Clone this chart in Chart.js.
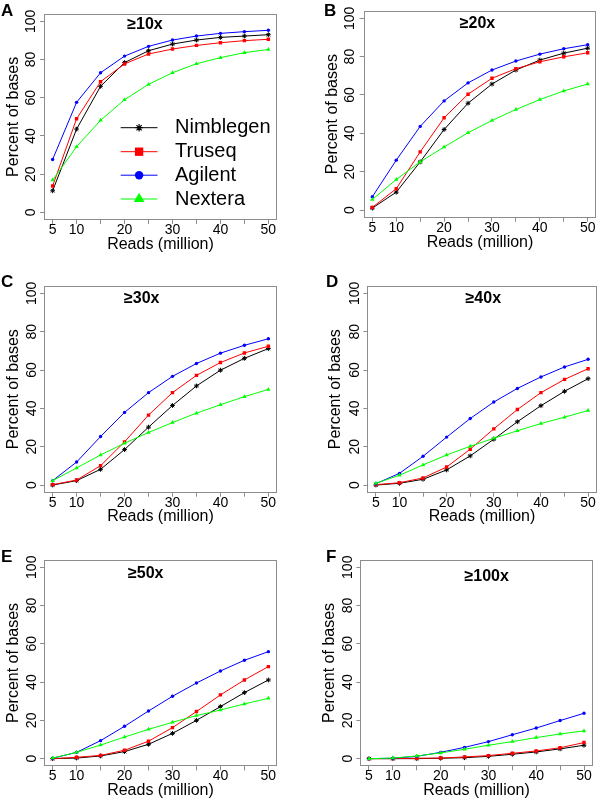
<!DOCTYPE html>
<html><head><meta charset="utf-8">
<script src="https://cdn.jsdelivr.net/npm/chart.js@4/dist/chart.umd.min.js"></script>
<style>
html,body{margin:0;padding:0;background:#fff;}
#wrap{position:relative;width:600px;height:802px;overflow:hidden;}
canvas{position:absolute;}
</style></head><body><div id="wrap"></div>
<script>
// ---- data ----
const reads = [5, 10, 15, 20, 25, 30, 35, 40, 45, 50];
const xTicks = [5, 10, 15, 20, 25, 30, 35, 40, 45, 50];
const xLabelShown = [5, 10, 20, 30, 40, 50];
const yTicks = [0, 20, 40, 60, 80, 100];
const seriesNames = ['Nimblegen', 'Truseq', 'Agilent', 'Nextera'];
const panelLetters = ['A', 'B', 'C', 'D', 'E', 'F'];
const panelTitles = ['≥10x', '≥20x', '≥30x', '≥40x', '≥50x', '≥100x'];

const nimblegen10x = [11.3, 43.6, 66.0, 78.4, 84.6, 88.1, 90.2, 91.6, 92.3, 93.0];
const truseq10x    = [13.8, 49.0, 68.4, 77.7, 82.9, 85.5, 87.4, 88.8, 89.9, 90.6];
const agilent10x   = [27.7, 57.6, 73.1, 81.8, 86.9, 90.2, 92.3, 93.7, 94.6, 95.3];
const nextera10x   = [16.9, 34.4, 48.2, 59.0, 67.0, 73.1, 77.8, 81.0, 83.6, 85.3];

const nimblegen20x = [1.0, 9.3, 25.1, 42.0, 55.7, 65.7, 73.0, 78.2, 81.8, 84.4];
const truseq20x    = [1.4, 11.1, 30.3, 48.1, 60.4, 68.7, 73.7, 77.3, 79.9, 82.0];
const agilent20x   = [6.9, 26.0, 43.6, 56.9, 66.3, 73.0, 77.7, 81.3, 84.1, 86.2];
const nextera20x   = [5.5, 15.9, 25.1, 32.9, 40.3, 46.7, 52.4, 57.6, 62.1, 65.7];

const nimblegen30x = [0.0, 2.3, 8.2, 18.5, 30.2, 41.5, 51.7, 59.9, 66.1, 71.2];
const truseq30x    = [0.2, 2.6, 10.1, 22.5, 36.5, 48.2, 57.2, 63.9, 68.9, 72.4];
const agilent30x   = [2.3, 12.0, 25.3, 37.9, 48.2, 56.7, 63.4, 68.8, 72.9, 76.3];
const nextera30x   = [2.3, 8.9, 15.7, 21.8, 27.4, 32.6, 37.5, 41.9, 46.1, 49.9];

const nimblegen40x = [0.0, 0.9, 3.0, 7.9, 15.2, 23.9, 33.0, 41.4, 48.9, 55.5];
const truseq40x    = [0.2, 1.2, 3.7, 9.4, 18.7, 29.3, 39.4, 48.2, 55.1, 60.7];
const agilent40x   = [0.7, 6.1, 15.0, 25.0, 34.7, 43.3, 50.4, 56.4, 61.6, 65.6];
const nextera40x   = [0.9, 5.1, 10.5, 15.7, 20.2, 24.4, 28.3, 32.1, 35.4, 38.9];

const nimblegen50x = [0.0, 0.3, 1.4, 3.7, 7.5, 13.2, 20.0, 27.2, 34.5, 41.1];
const truseq50x    = [0.0, 0.7, 1.7, 4.4, 9.1, 16.2, 24.6, 33.3, 41.1, 48.1];
const agilent50x   = [0.2, 3.3, 9.4, 16.9, 24.9, 32.6, 39.5, 45.8, 51.4, 55.9];
const nextera50x   = [0.3, 3.3, 7.1, 11.3, 15.3, 19.0, 22.5, 25.4, 28.6, 31.5];

const nimblegen100x = [0.0, 0.0, 0.0, 0.2, 0.5, 1.2, 2.3, 3.5, 5.1, 7.0];
const truseq100x    = [0.0, 0.0, 0.2, 0.3, 0.9, 1.6, 2.8, 4.0, 5.7, 8.4];
const agilent100x   = [0.0, 0.2, 1.2, 3.3, 5.9, 8.9, 12.5, 16.0, 19.9, 23.7];
const nextera100x   = [0.0, 0.3, 1.4, 3.0, 4.9, 7.0, 8.9, 11.0, 12.9, 14.5];

const panelValues = [
  [nimblegen10x, truseq10x, agilent10x, nextera10x],
  [nimblegen20x, truseq20x, agilent20x, nextera20x],
  [nimblegen30x, truseq30x, agilent30x, nextera30x],
  [nimblegen40x, truseq40x, agilent40x, nextera40x],
  [nimblegen50x, truseq50x, agilent50x, nextera50x],
  [nimblegen100x, truseq100x, agilent100x, nextera100x]
];

// ---- styles / layout ----
const FONT = '"Liberation Sans", Arial, Helvetica, sans-serif';
const GREY = '#8c8c8c';
const TICKLEN = 4;
const TICK_SIZE = 14;
const TITLE_SIZE = 16;
const seriesStyle = [
  {color: '#000000', point: 'star',     r: 2.4, bw: 1,  order: 3, lr: 3.7, lbw: 1.2},
  {color: '#ff0000', point: 'rect',     r: 2.4, bw: 0,  order: 2, lr: 5.9, lbw: 0},
  {color: '#0000ff', point: 'circle',   r: 1.7, bw: 0,  order: 1, lr: 4.2, lbw: 0},
  {color: '#00ff00', point: 'triangle', r: 2.5, bw: 0,  order: 0, lr: 6.2, lbw: 0}
];
// page-coordinate layout per panel
const layouts = [
  {canvas: [0, 0, 300, 265],    area: [44, 13.7, 277, 220],      titleXY: [145, 25],    letterXY: [1, 15.5],  yTickX: 31.3, yTitleX: 13.5, xTitleY: 245},
  {canvas: [300, 0, 300, 265],  area: [363.7, 10.6, 596.3, 217.7], titleXY: [477.5, 23.3], letterXY: [324, 15.5], yTickX: 350, yTitleX: 332.5, xTitleY: 243},
  {canvas: [0, 265, 300, 265],  area: [44, 285.7, 277, 492.7],   titleXY: [141.7, 298.3], letterXY: [1, 287], yTickX: 32.5, yTitleX: 13.7, xTitleY: 516.5},
  {canvas: [300, 265, 300, 265],area: [367.4, 285.7, 598, 492.7], titleXY: [483.3, 298.3], letterXY: [326, 287], yTickX: 354.7, yTitleX: 335.5, xTitleY: 516.5},
  {canvas: [0, 530, 300, 272],  area: [44, 559.6, 277, 766.3],   titleXY: [145.7, 574], letterXY: [1, 562], yTickX: 32.5, yTitleX: 14, xTitleY: 790.5},
  {canvas: [300, 530, 300, 272],area: [360.4, 559.6, 592.6, 766.3], titleXY: [486.7, 576.7], letterXY: [326, 562], yTickX: 348.3, yTitleX: 329.7, xTitleY: 791}
];
const legendLayout = {panel: 0, lineX: [120.7, 157.5], textX: 175, rowsY: [127.7, 151.7, 175.2, 199], size: 20};

const decor = {
  id: 'decor',
  beforeDatasetsDraw(chart) {
    const {ctx, chartArea: a} = chart;
    ctx.save();
    ctx.strokeStyle = GREY; ctx.lineWidth = 1;
    const l = Math.round(a.left) + 0.5, t = Math.round(a.top) + 0.5;
    const r = Math.round(a.right) - 0.5, b = Math.round(a.bottom) - 0.5;
    ctx.strokeRect(l, t, r - l, b - t);
    ctx.restore();
  },
  afterDraw(chart) {
    const p = chart.options.plugins.decor;
    const L = layouts[p.index];
    const [cx, cy] = L.canvas;
    const ctx = chart.ctx;
    ctx.save();
    // rotated y tick labels (R style, read bottom-to-top), positioned by the y scale
    const ys = chart.scales.y;
    ctx.fillStyle = '#000';
    ctx.font = TICK_SIZE + 'px ' + FONT;
    ctx.textAlign = 'center'; ctx.textBaseline = 'middle';
    ys.ticks.forEach(tk => {
      const py = ys.getPixelForValue(tk.value);
      ctx.save();
      ctx.translate(L.yTickX - cx, py);
      ctx.rotate(-Math.PI / 2);
      ctx.fillText(String(tk.value), 0, 0);
      ctx.restore();
    });
    ctx.font = 'bold 17px ' + FONT;
    ctx.textAlign = 'left'; ctx.textBaseline = 'alphabetic';
    ctx.fillText(panelLetters[p.index], L.letterXY[0] - cx, L.letterXY[1] - cy);
    ctx.font = 'bold ' + TITLE_SIZE + 'px ' + FONT;
    ctx.textAlign = 'center'; ctx.textBaseline = 'middle';
    ctx.fillText(panelTitles[p.index], L.titleXY[0] - cx, L.titleXY[1] - cy);
    if (p.index === legendLayout.panel) {
      const H = Chart.helpers;
      chart.data.datasets.forEach((ds, i) => {
        const st = seriesStyle[i];
        const y = legendLayout.rowsY[i] - cy;
        const x0 = legendLayout.lineX[0] - cx, x1 = legendLayout.lineX[1] - cx;
        ctx.strokeStyle = ds.borderColor; ctx.lineWidth = 1;
        ctx.beginPath(); ctx.moveTo(x0, y); ctx.lineTo(x1, y); ctx.stroke();
        ctx.fillStyle = ds.borderColor; ctx.strokeStyle = ds.borderColor;
        ctx.lineWidth = st.lbw || 1;
        H.drawPoint(ctx, {pointStyle: ds.pointStyle, radius: st.lr, rotation: 0, borderWidth: st.lbw}, (x0 + x1) / 2, y);
        ctx.fillStyle = '#000';
        ctx.font = legendLayout.size + 'px ' + FONT;
        ctx.textAlign = 'left'; ctx.textBaseline = 'middle';
        ctx.fillText(ds.label, legendLayout.textX - cx, y);
      });
    }
    ctx.restore();
  }
};

const wrap = document.getElementById('wrap');
panelValues.forEach((vals, idx) => {
  const L = layouts[idx];
  const [cx, cy, cw, ch] = L.canvas;
  const [l, t, r, b] = L.area;
  const cv = document.createElement('canvas');
  cv.width = cw; cv.height = ch;
  cv.style.left = cx + 'px'; cv.style.top = cy + 'px';
  cv.style.width = cw + 'px'; cv.style.height = ch + 'px';
  wrap.appendChild(cv);
  const xPad = 10 - TICKLEN - TICK_SIZE * 1.2 / 2;
  const tlh = TITLE_SIZE * 1.2;
  const yTitlePad = (L.yTitleX - cx) - tlh / 2;
  const xTitlePad = (cy + ch) - L.xTitleY - tlh / 2;
  const gridOpts = {display: true, drawOnChartArea: false, drawTicks: true, tickLength: TICKLEN, color: GREY, lineWidth: 1};
  new Chart(cv, {
    type: 'line',
    data: {
      datasets: vals.map((arr, i) => ({
        label: seriesNames[i],
        data: reads.map((x, k) => ({x: x, y: arr[k]})),
        borderColor: seriesStyle[i].color,
        backgroundColor: seriesStyle[i].color,
        borderWidth: 1,
        pointStyle: seriesStyle[i].point,
        pointRadius: seriesStyle[i].r,
        pointHoverRadius: seriesStyle[i].r,
        pointBorderWidth: seriesStyle[i].bw,
        pointBorderColor: seriesStyle[i].color,
        pointBackgroundColor: seriesStyle[i].color,
        order: seriesStyle[i].order,
        tension: 0,
        fill: false
      }))
    },
    options: {
      responsive: false, animation: false, devicePixelRatio: 1, events: [],
      layout: {padding: {left: 0, top: t - cy, right: cx + cw - r, bottom: 0}},
      plugins: {legend: {display: false}, tooltip: {enabled: false}, decor: {index: idx}},
      scales: {
        x: {
          type: 'linear', min: 3.2, max: 51.8,
          afterBuildTicks: sc => { sc.ticks = xTicks.map(v => ({value: v})); },
          afterFit: sc => { sc.height = cy + ch - b; },
          grid: gridOpts, border: {display: false},
          ticks: {autoSkip: false, minRotation: 0, maxRotation: 0, padding: xPad, color: '#000',
                  font: {family: FONT, size: TICK_SIZE},
                  callback: v => xLabelShown.includes(v) ? String(v) : ''},
          title: {display: true, text: 'Reads (million)', color: '#000', font: {family: FONT, size: TITLE_SIZE},
                  padding: {top: 0, bottom: xTitlePad}}
        },
        y: {
          type: 'linear', min: -4, max: 104,
          afterBuildTicks: sc => { sc.ticks = yTicks.map(v => ({value: v})); },
          afterFit: sc => { sc.width = l - cx; },
          grid: gridOpts, border: {display: false},
          ticks: {display: false, autoSkip: false, font: {family: FONT, size: TICK_SIZE}},
          title: {display: true, text: 'Percent of bases', color: '#000', font: {family: FONT, size: TITLE_SIZE},
                  padding: {top: yTitlePad, bottom: 0}}
        }
      }
    },
    plugins: [decor]
  });
});
</script></body></html>
